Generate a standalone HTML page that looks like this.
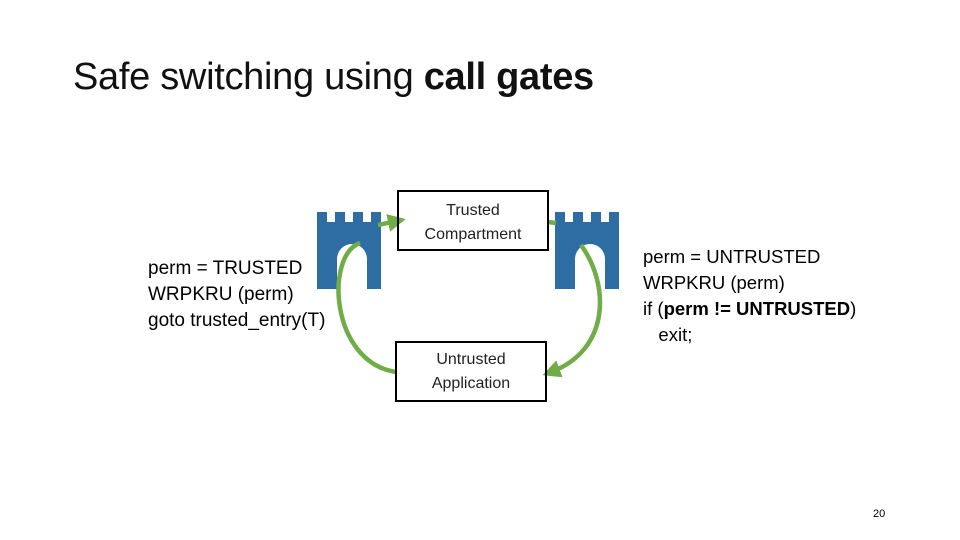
<!DOCTYPE html>
<html><head><style>
body{margin:0;width:960px;height:540px;background:#fff;position:relative;overflow:hidden;font-family:"Liberation Sans",sans-serif;color:#000}
.t{position:absolute;white-space:nowrap}
.box{position:absolute;border:2px solid #000;box-sizing:border-box;text-align:center;font-size:16px;line-height:24px;color:#222}
</style></head><body>
<div class="t" style="left:73px;top:56px;font-size:38px;letter-spacing:-0.3px;color:#111">Safe switching using <b>call gates</b></div>
<svg width="960" height="540" style="position:absolute;left:0;top:0">
<defs><marker id="a" markerWidth="4" markerHeight="4" refX="2" refY="2" orient="auto"><path d="M0,0L4,2L0,4z" fill="#70ad47"/></marker></defs>
<g fill="#2e6da4">
<path d="M317,212h10v10h8v-10h10v10h8v-10h10v10h8v-10h10v77h-14v-30a15,15 0 0 0 -30,0v30h-20z"/>
<path d="M555,212h10v10h8v-10h10v10h8v-10h10v10h8v-10h10v77h-14v-30a15,15 0 0 0 -30,0v30h-20z"/>
</g>
<path d="M396,372 C330,362 325,255 360,243" stroke="#70ad47" stroke-width="4.5" fill="none"/>
<path d="M378,225 L397,221" stroke="#70ad47" stroke-width="4.5" fill="none" marker-end="url(#a)"/>
<path d="M548,222 L556,223" stroke="#70ad47" stroke-width="4.5" fill="none"/>
<path d="M581,245 C610,285 610,350 551,372" stroke="#70ad47" stroke-width="4.5" fill="none" marker-end="url(#a)"/>
</svg>
<div class="box" style="left:397px;top:190px;width:152px;height:61px;padding-top:7px">Trusted<br>Compartment</div>
<div class="box" style="left:395px;top:341px;width:152px;height:61px;padding-top:5px">Untrusted<br>Application</div>
<div class="t" style="left:148px;top:256px;font-size:19px;line-height:26px">perm = TRUSTED<br>WRPKRU (perm)<br>goto trusted_entry(T)</div>
<div class="t" style="left:643px;top:244px;font-size:18.5px;line-height:26px">perm = UNTRUSTED<br>WRPKRU (perm)<br>if (<b>perm != UNTRUSTED</b>)<br>&nbsp;&nbsp;&nbsp;exit;</div>
<div class="t" style="left:873px;top:508px;font-size:11px">20</div>
</body></html>
